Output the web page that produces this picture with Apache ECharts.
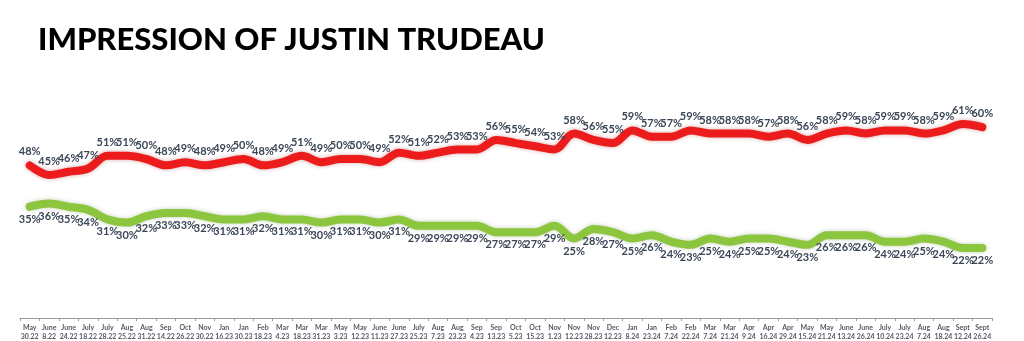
<!DOCTYPE html>
<html>
<head>
<meta charset="utf-8">
<style>
  html, body { margin: 0; padding: 0; background: #ffffff; }
  #chart { width: 1024px; height: 341px; }
</style>
<script src="https://cdn.jsdelivr.net/npm/echarts@6/dist/echarts.min.js"></script>
</head>
<body>
<div id="chart"></div>
<script>
// Survey dates (month / day.year)
const dates = [
  'May\n30.22', 'June\n8.22', 'June\n24.22', 'July\n18.22', 'July\n28.22', 'Aug\n25.22', 'Aug\n31.22',
  'Sep\n14.22', 'Oct\n26.22', 'Nov\n30.22', 'Jan\n16.23', 'Jan\n30.23', 'Feb\n18.23', 'Mar\n4.23',
  'Mar\n18.23', 'Mar\n31.23', 'May\n3.23', 'May\n12.23', 'June\n11.23', 'June\n27.23', 'July\n25.23',
  'Aug\n7.23', 'Aug\n23.23', 'Sep\n4.23', 'Sep\n13.23', 'Oct\n5.23', 'Oct\n15.23', 'Nov\n1.23',
  'Nov\n12.23', 'Nov\n28.23', 'Dec\n12.23', 'Jan\n8.24', 'Jan\n23.24', 'Feb\n7.24', 'Feb\n22.24',
  'Mar\n7.24', 'Mar\n21.24', 'Apr\n9.24', 'Apr\n16.24', 'Apr\n29.24', 'May\n15.24', 'May\n21.24',
  'June\n13.24', 'June\n26.24', 'July\n10.24', 'July\n23.24', 'Aug\n7.24', 'Aug\n18.24',
  'Sept\n12.24', 'Sept\n26.24'
];

// Negative impression (%)
const negative = [
  48, 45, 46, 47, 51, 51, 50, 48, 49, 48, 49, 50, 48, 49, 51, 49, 50, 50, 49, 52,
  51, 52, 53, 53, 56, 55, 54, 53, 58, 56, 55, 59, 57, 57, 59, 58, 58, 58, 57, 58,
  56, 58, 59, 58, 59, 59, 58, 59, 61, 60
];

// Positive impression (%)
const positive = [
  35, 36, 35, 34, 31, 30, 32, 33, 33, 32, 31, 31, 32, 31, 31, 30, 31, 31, 30, 31,
  29, 29, 29, 29, 27, 27, 27, 29, 25, 28, 27, 25, 26, 24, 23, 25, 24, 25, 25, 24,
  23, 26, 26, 26, 24, 24, 25, 24, 22, 22
];

function lineSeries(name, values, color, shadow, labelPos, dist) {
  return {
    name: name,
    type: 'line',
    data: values,
    smooth: 0.35,
    symbol: 'circle',
    symbolSize: 2,
    showSymbol: true,
    showAllSymbol: true,
    itemStyle: { color: color },
    lineStyle: {
      color: color,
      width: 8,
      cap: 'round',
      join: 'round',
      shadowColor: shadow,
      shadowBlur: 4
    },
    label: {
      show: true,
      position: labelPos,
      distance: dist,
      color: '#3b4656',
      fontFamily: 'Lato',
      fontWeight: 'bold',
      fontSize: 11,
      formatter: '{c}%'
    },
    z: 2
  };
}

const chart = echarts.init(document.getElementById('chart'), null, { renderer: 'canvas' });
chart.setOption({
  animation: false,
  backgroundColor: '#ffffff',
  title: {
    text: 'IMPRESSION OF JUSTIN TRUDEAU',
    left: 33,
    top: 19,
    textStyle: {
      fontFamily: 'Lato',
      fontWeight: 900,
      fontSize: 31,
      color: '#000000'
    }
  },
  grid: { left: 20, right: 32, top: 0, bottom: 22 },
  xAxis: {
    type: 'category',
    data: dates,
    boundaryGap: true,
    axisLine: { lineStyle: { color: '#9a9a9a', width: 1 } },
    axisTick: { show: true, length: 3, lineStyle: { color: '#9a9a9a' } },
    axisLabel: {
      interval: 0,
      color: '#555b66',
      fontFamily: 'Lato',
      fontWeight: 'bold',
      fontSize: 7,
      lineHeight: 9,
      margin: 5
    }
  },
  yAxis: {
    type: 'value',
    min: 0,
    max: 100,
    show: false,
    splitLine: { show: false }
  },
  series: [
    lineSeries('Negative', negative, '#ec1c1c', 'rgba(150,0,0,0.35)', 'top', 7),
    lineSeries('Positive', positive, '#8cc63f', 'rgba(60,100,20,0.3)', 'bottom', 6)
  ]
});
</script>
</body>
</html>
